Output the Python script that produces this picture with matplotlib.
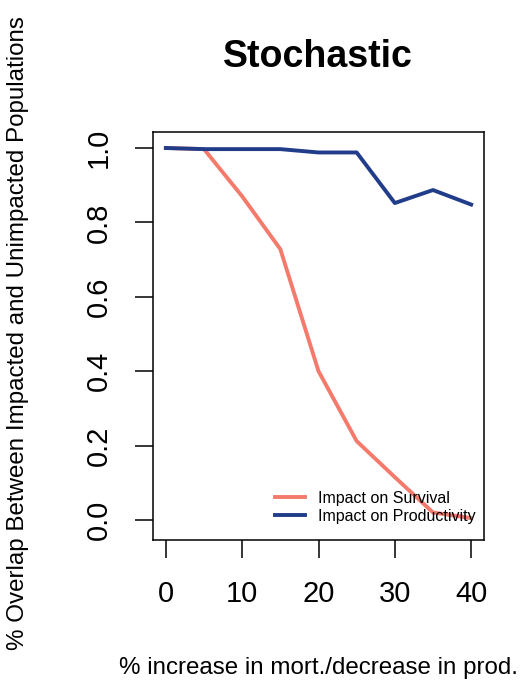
import matplotlib
matplotlib.use("Agg")
import matplotlib.pyplot as plt

plt.rcParams['font.family'] = ['Liberation Sans', 'DejaVu Sans']

# percent change in mortality / productivity
pct_change = [0, 5, 10, 15, 20, 25, 30, 35, 40]
# overlap between impacted and unimpacted populations
survival = [1.0, 0.997, 0.87, 0.728, 0.40, 0.212, 0.115, 0.02, 0.005]
productivity = [1.0, 0.997, 0.997, 0.997, 0.988, 0.988, 0.852, 0.887, 0.848]

x_ticks = [0, 10, 20, 30, 40]
y_ticks = [0.0, 0.2, 0.4, 0.6, 0.8, 1.0]

red = '#F47A6C'
blue = '#213D8A'

fig = plt.figure(figsize=(5.2, 6.84), dpi=100)
ax = fig.add_axes([0.294, 0.2105, 0.637, 0.5965])

ax.plot(pct_change, survival, color=red, lw=2.8, label='Impact on Survival',
        solid_joinstyle='round')
ax.plot(pct_change, productivity, color=blue, lw=2.8, label='Impact on Productivity',
        solid_joinstyle='round')

ax.set_xlim(-1.7, 41.7)
ax.set_ylim(-0.054, 1.043)
ax.set_xticks(x_ticks)
ax.set_xticklabels([str(t) for t in x_ticks])
ax.set_yticks(y_ticks)
ax.set_yticklabels(['%.1f' % t for t in y_ticks], rotation=90, va='center')

for s in ax.spines.values():
    s.set_linewidth(1.1)
ax.tick_params(direction='out', length=13, width=1.1, labelsize=21, pad=16)

ax.legend(loc='center left', bbox_to_anchor=(0.369, 0.08), frameon=False,
          fontsize=11.5, handlelength=1.9, handletextpad=0.8, labelspacing=0.2,
          borderpad=0, borderaxespad=0)

fig.text(0.612, 0.917, 'Stochastic', ha='center', va='center',
         fontsize=27, fontweight='bold')
fig.text(0.612, 0.023, '% increase in mort./decrease in prod.', ha='center',
         va='center', fontsize=17.4)
fig.text(0.035, 0.513, '% Overlap Between Impacted and Unimpacted Populations',
         ha='center', va='center', rotation=90, fontsize=17.4)

fig.savefig('out.png', dpi=100)
